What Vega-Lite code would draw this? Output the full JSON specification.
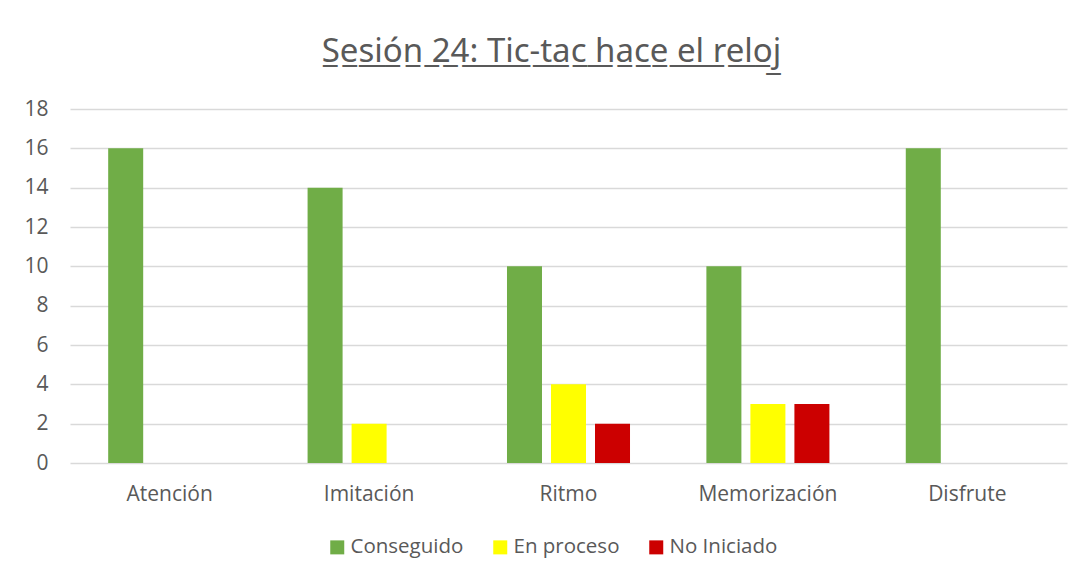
{
  "$schema": "https://vega.github.io/schema/vega-lite/v6.json",
  "width": 997,
  "height": 354,
  "autosize": {"type": "none"},
  "padding": {"left": 70, "top": 109, "right": 24, "bottom": 117},
  "background": "white",
  "title": {
    "text": "S̲e̲s̲i̲ó̲n̲ ̲2̲4̲:̲ ̲T̲i̲c̲-̲t̲a̲c̲ ̲h̲a̲c̲e̲ ̲e̲l̲ ̲r̲e̲l̲o̲j̲",
    "font": "Noto Sans",
    "fontSize": 33,
    "fontWeight": "normal",
    "color": "#595959",
    "anchor": "middle",
    "dx": -17,
    "offset": 29
  },
  "data": {
    "values": [
      {"categoria": "Atención", "estado": "Conseguido", "valor": 16},
      {"categoria": "Atención", "estado": "En proceso", "valor": 0},
      {"categoria": "Atención", "estado": "No Iniciado", "valor": 0},
      {"categoria": "Imitación", "estado": "Conseguido", "valor": 14},
      {"categoria": "Imitación", "estado": "En proceso", "valor": 2},
      {"categoria": "Imitación", "estado": "No Iniciado", "valor": 0},
      {"categoria": "Ritmo", "estado": "Conseguido", "valor": 10},
      {"categoria": "Ritmo", "estado": "En proceso", "valor": 4},
      {"categoria": "Ritmo", "estado": "No Iniciado", "valor": 2},
      {"categoria": "Memorización", "estado": "Conseguido", "valor": 10},
      {"categoria": "Memorización", "estado": "En proceso", "valor": 3},
      {"categoria": "Memorización", "estado": "No Iniciado", "valor": 3},
      {"categoria": "Disfrute", "estado": "Conseguido", "valor": 16},
      {"categoria": "Disfrute", "estado": "En proceso", "valor": 0},
      {"categoria": "Disfrute", "estado": "No Iniciado", "valor": 0}
    ]
  },
  "mark": {"type": "bar"},
  "encoding": {
    "x": {
      "field": "categoria",
      "type": "nominal",
      "sort": ["Atención", "Imitación", "Ritmo", "Memorización", "Disfrute"],
      "scale": {"paddingInner": 0.383, "paddingOuter": 0.1915},
      "axis": {
        "title": null,
        "labelAngle": 0,
        "ticks": false,
        "domain": false,
        "labelFont": "Open Sans",
        "labelFontSize": 21,
        "labelColor": "#595959",
        "labelPadding": 20
      }
    },
    "xOffset": {
      "field": "estado",
      "type": "nominal",
      "sort": ["Conseguido", "En proceso", "No Iniciado"],
      "scale": {"paddingInner": 0.2045, "paddingOuter": 0}
    },
    "y": {
      "field": "valor",
      "type": "quantitative",
      "scale": {"domain": [0, 18], "nice": false},
      "axis": {
        "title": null,
        "values": [0, 2, 4, 6, 8, 10, 12, 14, 16, 18],
        "ticks": false,
        "domain": false,
        "grid": true,
        "gridColor": "#d9d9d9",
        "gridWidth": 1.3,
        "labelFont": "Open Sans",
        "labelFontSize": 21,
        "labelColor": "#595959",
        "labelPadding": 22
      }
    },
    "color": {
      "field": "estado",
      "type": "nominal",
      "sort": ["Conseguido", "En proceso", "No Iniciado"],
      "scale": {
        "domain": ["Conseguido", "En proceso", "No Iniciado"],
        "range": ["#70AD47", "#FFFF00", "#CC0000"]
      },
      "legend": {
        "title": null,
        "orient": "none",
        "legendX": 257,
        "legendY": 428,
        "padding": 0,
        "direction": "horizontal",
        "symbolType": "square",
        "symbolSize": 196,
        "symbolStrokeWidth": 0,
        "labelFont": "Open Sans",
        "labelFontSize": 20.5,
        "labelColor": "#595959",
        "labelOffset": 3,
        "columnPadding": 26
      }
    }
  },
  "config": {
    "view": {"stroke": null}
  }
}
